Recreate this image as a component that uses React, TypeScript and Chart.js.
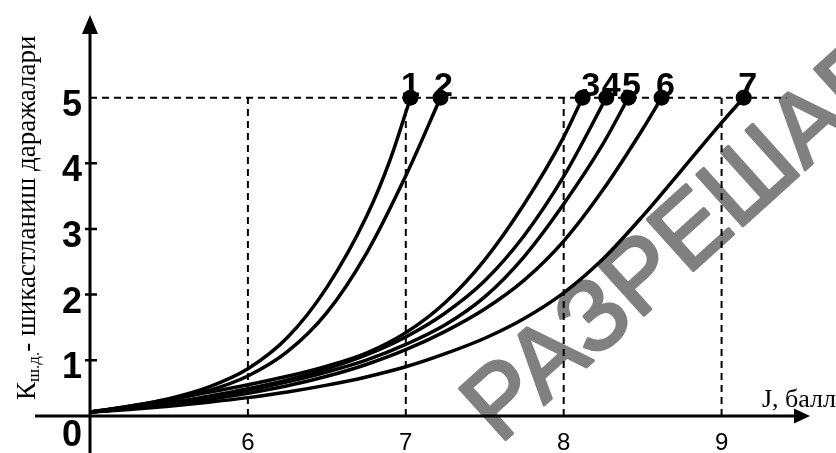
import React, { useEffect, useRef } from "react";
import { Chart, registerables } from "chart.js";

Chart.register(...registerables);

// ---- data ----
const xTicks = [6, 7, 8, 9];
const yTicks = [1, 2, 3, 4, 5];
const xMin = 5;
const xMax = 9.56;
const yMin = 0.15;
const yMax = 6.26;

const guideX = [6, 7, 8, 9];
const guideLevel = 5;
const guideEndX = 9.41;

const curveNames = ["1", "2", "3", "4", "5", "6", "7"];

const curve1 = [[5, 0.21], [5.25, 0.3], [5.5, 0.415], [5.75, 0.59], [6, 0.87], [6.25, 1.345], [6.5, 2.11], [6.75, 3.185], [6.9, 4.05], [7.03, 5]];
const curve2 = [[5, 0.21], [5.25, 0.29], [5.5, 0.39], [5.75, 0.535], [6, 0.76], [6.25, 1.13], [6.5, 1.725], [6.75, 2.625], [7, 3.81], [7.22, 5]];
const curve3 = [[5, 0.21], [5.25, 0.3], [5.5, 0.405], [5.75, 0.51], [6, 0.625], [6.25, 0.755], [6.5, 0.91], [6.75, 1.11], [7, 1.42], [7.25, 1.88], [7.5, 2.53], [7.75, 3.38], [8, 4.4], [8.12, 5]];
const curve4 = [[5, 0.21], [5.25, 0.27], [5.5, 0.35], [5.75, 0.45], [6, 0.565], [6.25, 0.7], [6.5, 0.87], [6.75, 1.08], [7, 1.355], [7.25, 1.72], [7.5, 2.21], [7.75, 2.9], [8, 3.8], [8.27, 5]];
const curve5 = [[5, 0.21], [5.25, 0.265], [5.5, 0.335], [5.75, 0.425], [6, 0.54], [6.25, 0.67], [6.5, 0.82], [6.75, 1.0], [7, 1.24], [7.25, 1.54], [7.5, 1.965], [7.75, 2.58], [8, 3.38], [8.25, 4.3], [8.41, 5]];
const curve6 = [[5, 0.21], [5.25, 0.26], [5.5, 0.32], [5.75, 0.4], [6, 0.495], [6.25, 0.61], [6.5, 0.755], [6.75, 0.935], [7, 1.16], [7.25, 1.44], [7.5, 1.78], [7.75, 2.22], [8, 2.815], [8.25, 3.6], [8.5, 4.52], [8.62, 5]];
const curve7 = [[5, 0.21], [5.25, 0.25], [5.5, 0.3], [5.75, 0.36], [6, 0.43], [6.25, 0.515], [6.5, 0.62], [6.75, 0.745], [7, 0.9], [7.25, 1.1], [7.5, 1.335], [7.75, 1.635], [8, 2.025], [8.25, 2.545], [8.5, 3.195], [8.75, 3.905], [9, 4.62], [9.14, 5]];

const curves = [curve1, curve2, curve3, curve4, curve5, curve6, curve7];

// ---- styling ----
const labelDx = [0, 3, 8, 5, 3, 4, 4];
const SANS = '"Liberation Sans", Arial, sans-serif';
const SERIF = '"Liberation Serif", "Times New Roman", serif';

const decorPlugin = {
  id: "decor",
  beforeDraw(chart: any) {
    const ctx = chart.ctx;
    ctx.save();
    ctx.fillStyle = "#ffffff";
    ctx.fillRect(0, 0, chart.width, chart.height);
    // watermark
    ctx.translate(706, 222);
    ctx.rotate((-42 * Math.PI) / 180);
    ctx.font = `100px ${SANS}`;
    ctx.fillStyle = "#808080";
    ctx.strokeStyle = "#808080";
    ctx.lineWidth = 3;
    ctx.lineJoin = "round";
    ctx.textAlign = "center";
    ctx.textBaseline = "middle";
    ctx.fillText("РАЗРЕШАЕТ", 0, 0);
    ctx.strokeText("РАЗРЕШАЕТ", 0, 0);
    ctx.restore();
  },
  afterDatasetsDraw(chart: any) {
    const ctx = chart.ctx;
    const xs = chart.scales.x;
    const ys = chart.scales.y;
    const ox = xs.getPixelForValue(xMin);
    const oy = ys.getPixelForValue(yMin);
    const right = xs.getPixelForValue(xMax);
    const top = ys.getPixelForValue(yMax);
    ctx.save();
    ctx.strokeStyle = "#000";
    ctx.fillStyle = "#000";
    ctx.lineWidth = 3;
    // axes lines
    ctx.beginPath();
    ctx.moveTo(35, oy);
    ctx.lineTo(right - 10, oy);
    ctx.moveTo(ox, chart.height);
    ctx.lineTo(ox, top + 12);
    ctx.stroke();
    // arrows
    ctx.beginPath();
    ctx.moveTo(right, oy);
    ctx.lineTo(right - 16, oy - 7.5);
    ctx.lineTo(right - 16, oy + 7.5);
    ctx.closePath();
    ctx.fill();
    ctx.beginPath();
    ctx.moveTo(ox, top);
    ctx.lineTo(ox - 8, top + 19);
    ctx.lineTo(ox + 8, top + 19);
    ctx.closePath();
    ctx.fill();
    // y tick marks
    ctx.lineWidth = 2.5;
    ctx.beginPath();
    yTicks.forEach((v) => {
      if (v >= guideLevel) return;
      const py = ys.getPixelForValue(v);
      ctx.moveTo(ox - 5, py);
      ctx.lineTo(ox + 7, py);
    });
    ctx.stroke();
    // origin label
    ctx.font = `bold 36px ${SANS}`;
    ctx.textAlign = "right";
    ctx.textBaseline = "alphabetic";
    ctx.fillText("0", ox - 8, oy + 30);
    // x title
    ctx.font = `26px ${SERIF}`;
    ctx.textAlign = "left";
    ctx.fillText("J, балл", 762, oy - 9);
    // y title with subscript
    ctx.save();
    ctx.translate(35, 400);
    ctx.rotate(-Math.PI / 2);
    ctx.textAlign = "left";
    let tx = 0;
    ctx.font = `27px ${SERIF}`;
    ctx.fillText("К", tx, 0);
    tx += ctx.measureText("К").width;
    ctx.font = `17px ${SERIF}`;
    ctx.fillText("ш.д.", tx, 4);
    tx += ctx.measureText("ш.д.").width;
    ctx.font = `27px ${SERIF}`;
    ctx.fillText("- шикастланиш даражалари", tx, 0);
    ctx.restore();
    // curve end labels
    ctx.font = `bold 34px ${SANS}`;
    ctx.textAlign = "center";
    ctx.textBaseline = "alphabetic";
    curves.forEach((c, i) => {
      const meta = chart.getDatasetMeta(guideX.length + 1 + i);
      const pt = meta.data[meta.data.length - 1];
      if (!pt) return;
      ctx.fillText(curveNames[i], pt.x + labelDx[i], pt.y - 2);
    });
    ctx.restore();
  },
};

export default function App() {
  const ref = useRef<HTMLCanvasElement | null>(null);

  useEffect(() => {
    if (!ref.current) return;
    Chart.defaults.color = "#000";
    Chart.defaults.font.family = SANS;

    const guideDatasets: any[] = guideX.map((gx) => ({
      data: [
        { x: gx, y: yMin },
        { x: gx, y: guideLevel },
      ],
      borderColor: "#000",
      borderWidth: 2,
      borderDash: [7, 5],
      pointRadius: 0,
      tension: 0,
    }));
    guideDatasets.push({
      data: [
        { x: xMin, y: guideLevel },
        { x: guideEndX, y: guideLevel },
      ],
      borderColor: "#000",
      borderWidth: 2,
      borderDash: [7, 5],
      pointRadius: 0,
      tension: 0,
    });

    const curveDatasets = curves.map((c, i) => ({
      label: curveNames[i],
      data: c.map(([x, y]) => ({ x, y })),
      borderColor: "#000",
      borderWidth: 3.5,
      backgroundColor: "#000",
      pointBackgroundColor: "#000",
      pointBorderWidth: 0,
      pointRadius: (ctx: any) => (ctx.dataIndex === c.length - 1 ? 8 : 0),
      cubicInterpolationMode: "monotone",
      fill: false,
      clip: false,
    }));

    const chart = new Chart(ref.current, {
      type: "line",
      data: { datasets: [...guideDatasets, ...curveDatasets] },
      options: {
        animation: false,
        responsive: false,
        events: [],
        layout: { padding: { top: 15, right: 26, left: 0, bottom: 0 } },
        plugins: {
          legend: { display: false },
          tooltip: { enabled: false },
        },
        scales: {
          x: {
            type: "linear",
            min: xMin,
            max: xMax,
            grid: { display: false, drawTicks: false },
            border: { display: false },
            afterBuildTicks: (axis: any) => {
              axis.ticks = xTicks.map((v) => ({ value: v }));
            },
            afterFit: (axis: any) => {
              axis.height = 37;
              axis.paddingLeft = 0;
              axis.paddingRight = 0;
            },
            ticks: {
              font: { size: 24, family: SANS },
              color: "#000",
              padding: 13,
              maxRotation: 0,
              autoSkip: false,
            },
          },
          y: {
            type: "linear",
            min: yMin,
            max: yMax,
            grid: { display: false, drawTicks: false },
            border: { display: false },
            afterBuildTicks: (axis: any) => {
              axis.ticks = yTicks.map((v) => ({ value: v }));
            },
            afterFit: (axis: any) => {
              axis.width = 90;
              axis.paddingTop = 0;
              axis.paddingBottom = 0;
            },
            ticks: {
              font: { size: 36, weight: "bold", family: SANS },
              color: "#000",
              padding: 8,
              labelOffset: 8,
              autoSkip: false,
            },
          },
        },
      },
      plugins: [decorPlugin],
    } as any);

    return () => chart.destroy();
  }, []);

  return (
    <div style={{ position: "fixed", left: 0, top: 0, width: 836, height: 453, background: "#fff" }}>
      <canvas ref={ref} width={836} height={453} style={{ display: "block" }} />
    </div>
  );
}
